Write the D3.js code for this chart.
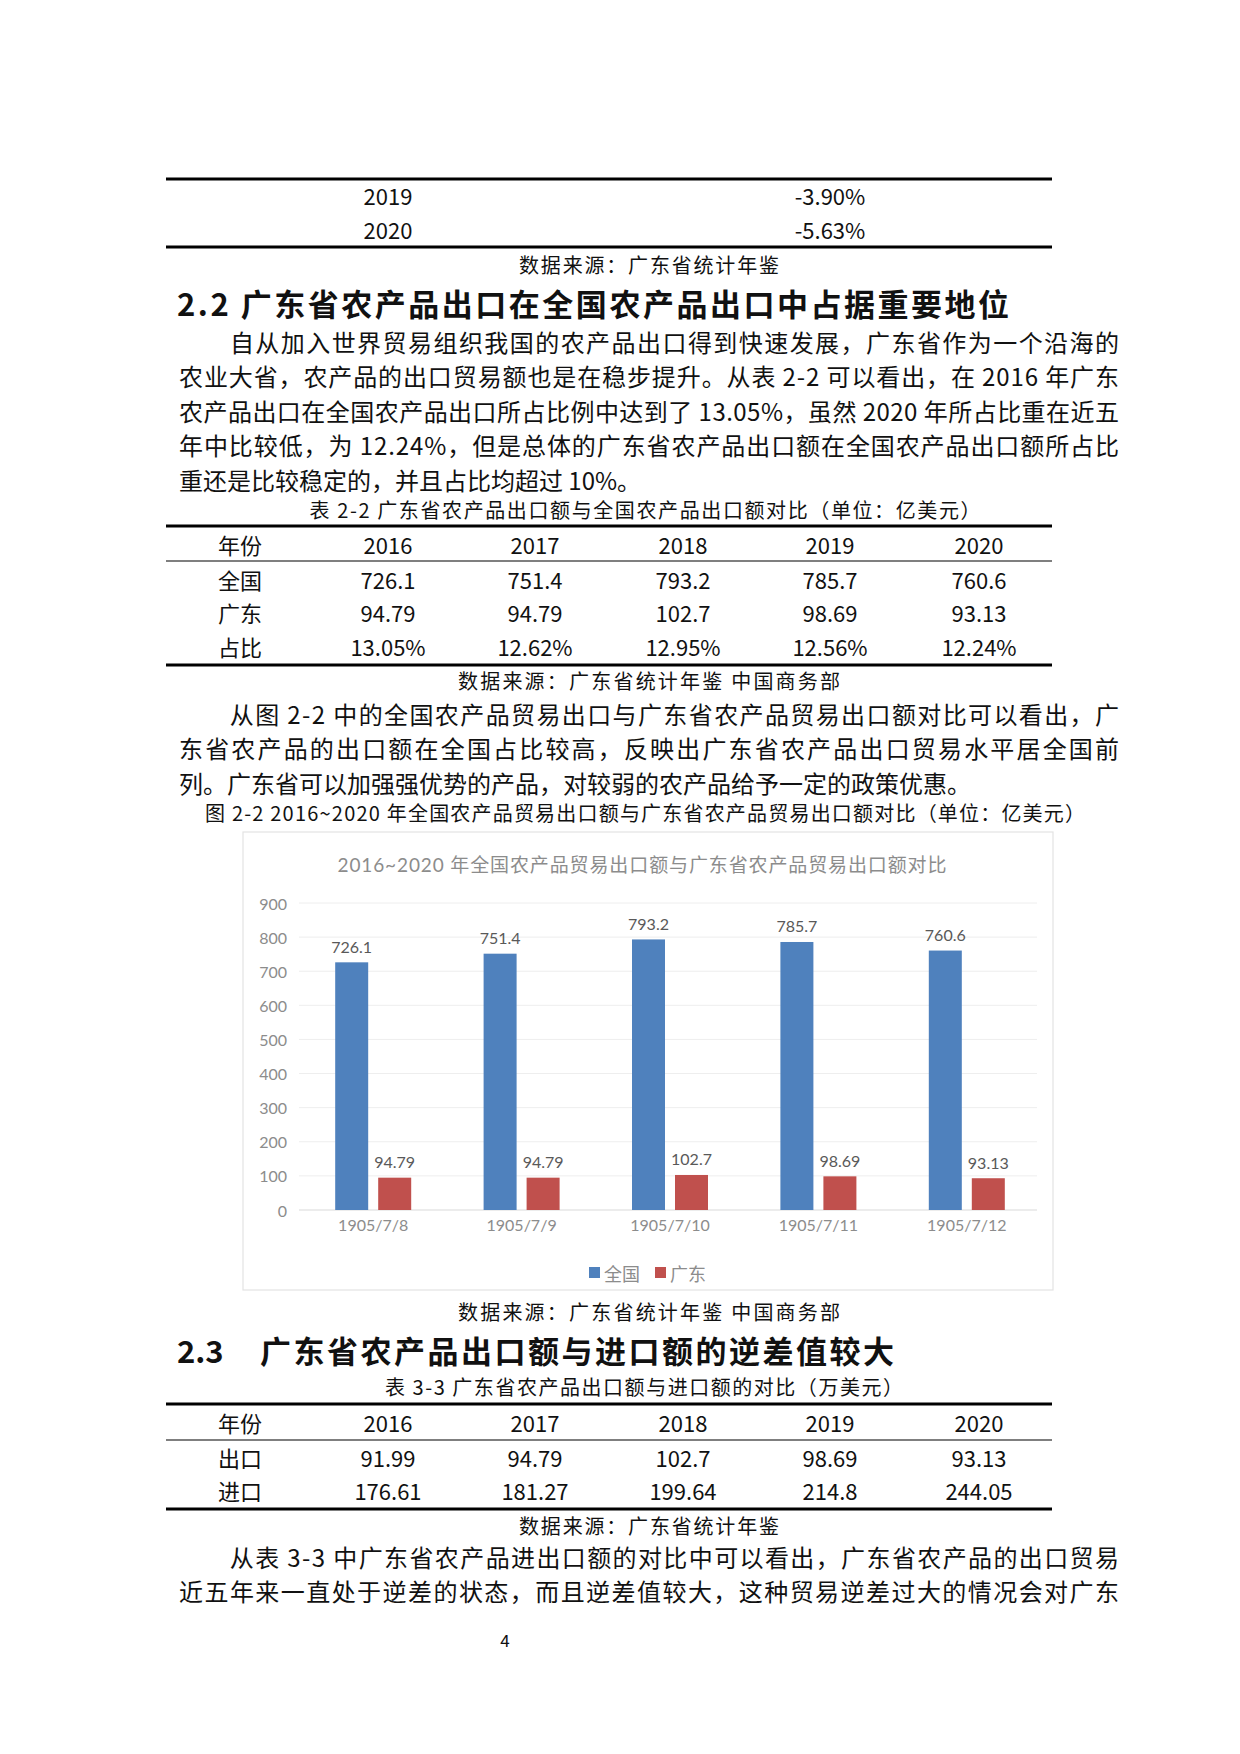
<!DOCTYPE html>
<html><head><meta charset="utf-8">
<script src="https://cdn.jsdelivr.net/npm/d3@7"></script>
<style>body{margin:0;background:#fff}</style>
</head><body>
<svg width="1240" height="1754"></svg>
<script>
// --- data ---
const categories = ["1905/7/8", "1905/7/9", "1905/7/10", "1905/7/11", "1905/7/12"];
const nationalValues = [726.1, 751.4, 793.2, 785.7, 760.6];
const guangdongValues = [94.79, 94.79, 102.7, 98.69, 93.13];
const yTicks = [0, 100, 200, 300, 400, 500, 600, 700, 800, 900];
const seriesNames = ["全国", "广东"];

const topRows = [["2019", "-3.90%"], ["2020", "-5.63%"]];
const table22 = [
  ["年份", "2016", "2017", "2018", "2019", "2020"],
  ["全国", "726.1", "751.4", "793.2", "785.7", "760.6"],
  ["广东", "94.79", "94.79", "102.7", "98.69", "93.13"],
  ["占比", "13.05%", "12.62%", "12.95%", "12.56%", "12.24%"]
];
const table33 = [
  ["年份", "2016", "2017", "2018", "2019", "2020"],
  ["出口", "91.99", "94.79", "102.7", "98.69", "93.13"],
  ["进口", "176.61", "181.27", "199.64", "214.8", "244.05"]
];
const para1 = [
  "　　自从加入世界贸易组织我国的农产品出口得到快速发展，广东省作为一个沿海的",
  "农业大省，农产品的出口贸易额也是在稳步提升。从表 2-2 可以看出，在 2016 年广东",
  "农产品出口在全国农产品出口所占比例中达到了 13.05%，虽然 2020 年所占比重在近五",
  "年中比较低，为 12.24%，但是总体的广东省农产品出口额在全国农产品出口额所占比",
  "重还是比较稳定的，并且占比均超过 10%。"
];
const para2 = [
  "　　从图 2-2 中的全国农产品贸易出口与广东省农产品贸易出口额对比可以看出，广",
  "东省农产品的出口额在全国占比较高，反映出广东省农产品出口贸易水平居全国前",
  "列。广东省可以加强强优势的产品，对较弱的农产品给予一定的政策优惠。"
];
const para3 = [
  "　　从表 3-3 中广东省农产品进出口额的对比中可以看出，广东省农产品的出口贸易",
  "近五年来一直处于逆差的状态，而且逆差值较大，这种贸易逆差过大的情况会对广东"
];

const svg = d3.select("svg");
const FONT = "'Noto Sans CJK SC', 'Noto Sans', sans-serif";
const CHARTFONT = "Lato, 'Noto Sans CJK SC', sans-serif";

function text(x, y, s, size, opts = {}) {
  const t = svg.append("text").attr("x", x).attr("y", y)
    .attr("dominant-baseline", "central")
    .attr("text-anchor", opts.anchor || "middle")
    .attr("font-family", opts.family || FONT)
    .attr("font-size", size)
    .attr("font-weight", opts.weight || 400)
    .attr("fill", opts.fill || "#111").text(s);
  if (opts.len) t.attr("textLength", opts.len).attr("lengthAdjust", "spacing");
  return t;
}
function rule(y, w) {
  svg.append("line").attr("x1", 166).attr("x2", 1052).attr("y1", y).attr("y2", y)
    .attr("stroke", "#000").attr("stroke-width", w);
}
function paragraph(lines, y0, justifyLast) {
  lines.forEach((l, i) => {
    const last = i === lines.length - 1 && !justifyLast;
    text(179, y0 + i * 34.5, l, 24, { anchor: "start", len: last ? null : 940 });
  });
}
const colX = [240, 388, 535, 683, 830, 979];
function table(rows, ys) {
  rows.forEach((r, i) => r.forEach((c, j) => text(colX[j], ys[i], c, 22)));
}

// --- top table fragment ---
rule(179, 3);
topRows.forEach((r, i) => { text(388, 195 + i * 34, r[0], 22); text(830, 195 + i * 34, r[1], 22); });
rule(247, 3);
text(649, 264, "数据来源：广东省统计年鉴", 20, { len: 260 });

text(177, 302, "2.2 广东省农产品出口在全国农产品出口中占据重要地位", 31, { anchor: "start", weight: 700, len: 832 });
paragraph(para1, 341);

text(645, 509, "表 2-2  广东省农产品出口额与全国农产品出口额对比（单位：亿美元）", 20, { len: 671 });
rule(526, 3);
rule(561, 1.2);
table(table22, [544, 579, 612, 646]);
rule(665, 3);
text(649, 680, "数据来源：广东省统计年鉴  中国商务部", 20, { len: 382 });

paragraph(para2, 713);
text(645, 812, "图 2-2  2016~2020 年全国农产品贸易出口额与广东省农产品贸易出口额对比（单位：亿美元）", 20, { len: 880 });

// --- chart ---
svg.append("rect").attr("x", 243).attr("y", 832).attr("width", 810).attr("height", 458)
  .attr("fill", "#fff").attr("stroke", "#e3e3e3").attr("stroke-width", 1.2);
text(642, 864, "2016~2020 年全国农产品贸易出口额与广东省农产品贸易出口额对比", 19,
  { fill: "#8c8c8c", family: CHARTFONT, len: 609 });

const x = d3.scaleBand().domain(categories).range([299, 1041]);
const y = d3.scaleLinear().domain([0, 900]).range([1210, 903]);
const g = svg.append("g");
g.selectAll(".grid").data(yTicks).enter().append("line")
  .attr("x1", 299).attr("x2", 1037).attr("y1", d => y(d)).attr("y2", d => y(d))
  .attr("stroke", d => d === 0 ? "#d9d9d9" : "#eeeeee").attr("stroke-width", 1);
g.selectAll(".yl").data(yTicks).enter().append("text")
  .attr("x", 287).attr("y", d => y(d)).attr("text-anchor", "end")
  .attr("dominant-baseline", "central").attr("font-family", CHARTFONT)
  .attr("font-size", 16).attr("fill", "#8c8c8c").text(d => d);

const bw = 33;
const series = [
  { vals: nationalValues, color: "#4f81bd", off: -38 },
  { vals: guangdongValues, color: "#c0504d", off: 5 }
];
series.forEach(s => {
  g.selectAll(null).data(categories).enter().append("rect")
    .attr("x", (d) => x(d) + x.bandwidth() / 2 + s.off)
    .attr("y", (d, i) => y(s.vals[i])).attr("width", bw)
    .attr("height", (d, i) => y(0) - y(s.vals[i])).attr("fill", s.color);
  g.selectAll(null).data(categories).enter().append("text")
    .attr("x", d => x(d) + x.bandwidth() / 2 + s.off + bw / 2)
    .attr("y", (d, i) => y(s.vals[i]) - 16).attr("text-anchor", "middle")
    .attr("dominant-baseline", "central").attr("font-family", CHARTFONT)
    .attr("font-size", 16).attr("fill", "#595959").text((d, i) => s.vals[i]);
});
g.selectAll(".xl").data(categories).enter().append("text")
  .attr("x", d => x(d) + x.bandwidth() / 2).attr("y", 1224).attr("text-anchor", "middle")
  .attr("dominant-baseline", "central").attr("font-family", CHARTFONT)
  .attr("font-size", 16).attr("fill", "#8c8c8c").text(d => d);

// legend
const legend = [{ n: seriesNames[0], c: "#4f81bd", x: 589 }, { n: seriesNames[1], c: "#c0504d", x: 655 }];
legend.forEach(l => {
  svg.append("rect").attr("x", l.x).attr("y", 1267).attr("width", 11).attr("height", 11).attr("fill", l.c);
  text(l.x + 15, 1273, l.n, 18, { anchor: "start", fill: "#8c8c8c" });
});

text(649, 1311, "数据来源：广东省统计年鉴  中国商务部", 20, { len: 382 });
text(177, 1349, "2.3", 31, { anchor: "start", weight: 700 });
text(260, 1349, "广东省农产品出口额与进口额的逆差值较大", 31, { anchor: "start", weight: 700, len: 634 });
text(644, 1386, "表 3-3  广东省农产品出口额与进口额的对比（万美元）", 20, { len: 518 });
rule(1404, 3);
rule(1440, 1.2);
table(table33, [1422, 1457, 1490]);
rule(1509, 3);
text(649, 1525, "数据来源：广东省统计年鉴", 20, { len: 260 });
paragraph(para3, 1556, true);
text(505, 1639, "4", 17);
</script>
</body></html>
